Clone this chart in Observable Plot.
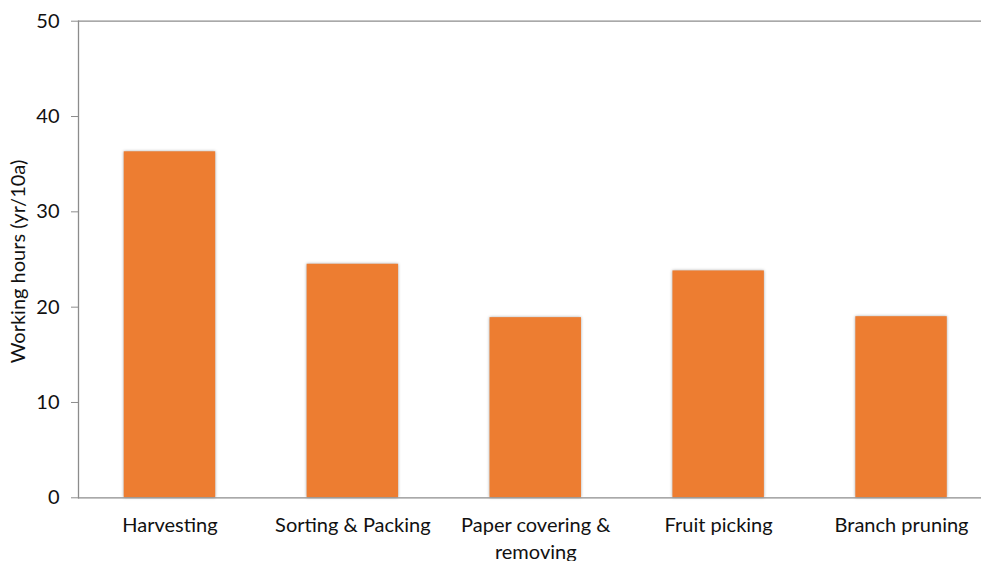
<!DOCTYPE html>
<html>
<head>
<meta charset="utf-8">
<script src="https://cdn.jsdelivr.net/npm/d3@7"></script>
<script src="https://cdn.jsdelivr.net/npm/@observablehq/plot@0.6"></script>
<style>
  html, body { margin: 0; padding: 0; background: #fff; }
  #chart svg { overflow: hidden; display: block; }
  #chart g[aria-label="bar"] rect { filter: drop-shadow(0.5px 0.5px 1.5px rgba(0,0,0,0.35)); }
</style>
</head>
<body>
<div id="chart"></div>
<script>
// Working hours per 10a for each orchard task
const tasks = ["Harvesting", "Sorting & Packing", "Paper covering & removing", "Fruit picking", "Branch pruning"];
const hours = [36.3, 24.5, 18.9, 23.8, 19.0];
const taskLabels = ["Harvesting", "Sorting & Packing", "Paper covering &\nremoving", "Fruit picking", "Branch pruning"];
const yTicks = [0, 10, 20, 30, 40, 50];
const yTitle = "Working hours (yr/10a)";

const rows = tasks.map((t, i) => ({task: t, hours: hours[i]}));
const labelOf = new Map(tasks.map((t, i) => [t, taskLabels[i]]));

const axisColor = "#8c8c8c";
const textColor = "#111";
const font = "Lato, 'Open Sans', sans-serif";

const chart = Plot.plot({
  width: 981,
  height: 561,
  marginTop: 20.7,
  marginBottom: 63.7,
  marginLeft: 78,
  marginRight: -11.5,
  style: {fontFamily: font, fontSize: "20px", color: textColor, background: "#fff"},
  x: {domain: tasks, paddingInner: 0.5, paddingOuter: 0.25, align: 0.5, round: false},
  y: {domain: [0, 50]},
  marks: [
    Plot.barY(rows, {x: "task", y: "hours", fill: "#ED7D31"}),
    Plot.ruleY([0, 50], {stroke: axisColor, strokeWidth: 1.3}),
    Plot.frame({anchor: "left", stroke: axisColor, strokeWidth: 1.3}),
    Plot.axisY({
      ticks: yTicks,
      tickSize: 7,
      tickPadding: 12,
      stroke: axisColor,
      fill: textColor,
      fontSize: 20,
      label: null
    }),
    Plot.axisX({
      tickSize: 0,
      tickPadding: 15,
      tickFormat: (d) => labelOf.get(d),
      lineHeight: 1.35,
      fill: textColor,
      fontSize: 20,
      label: null
    }),
    Plot.text([yTitle], {
      frameAnchor: "left",
      textAnchor: "middle",
      rotate: -90,
      dx: -60,
      dy: 2,
      fontSize: 20,
      fill: textColor
    })
  ]
});

document.getElementById("chart").appendChild(chart);
</script>
</body>
</html>
